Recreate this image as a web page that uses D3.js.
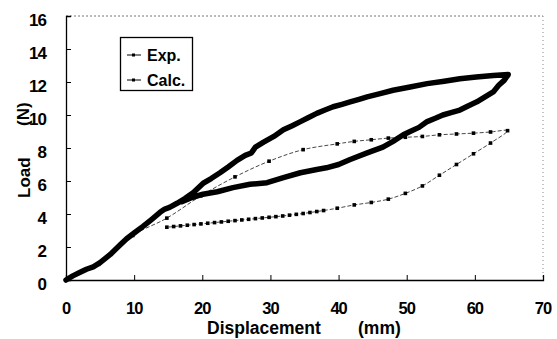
<!DOCTYPE html>
<html>
<head>
<meta charset="utf-8">
<script src="https://cdn.jsdelivr.net/npm/d3@7"></script>
<style>
body { margin: 0; background: #fff; }
text { font-family: "Liberation Sans", Arial, sans-serif; font-weight: bold; fill: #000; }
</style>
</head>
<body>
<div id="chart"></div>
<script>
// tick labels
var xTicks = [0, 10, 20, 30, 40, 50, 60, 70];
var yTicks = [0, 2, 4, 6, 8, 10, 12, 14, 16];

// Exp. : loading then unloading (one loop)
var expDisp = [0, 1, 2, 3, 4, 5, 6.5, 8, 8.9, 10, 11.3, 12.5, 13.8, 14.5, 15.2, 16.3, 17.5, 18.7, 20.1, 21.3, 22.6, 23.8, 25.1, 26.3, 27.2, 27.8, 29, 30.5, 31.9, 33.2, 34.4, 35.6, 36.8, 38, 39.2, 40.5, 41.7, 43, 44.2, 46.1, 48, 50.5, 53, 55.5, 57.8, 60.2, 62.7, 64.9,
    64.3, 63.5, 62.7, 61.5, 60.3, 59, 57.8, 56.5, 55.3, 54.2, 53, 51.8, 50.5, 49.5, 48, 46.5, 44.2, 41.7, 40, 38.2, 36.8, 34.4, 31.9, 29.5, 27, 24.5, 22.2, 20.1, 18.5, 17];
var expLoad = [0, 0.25, 0.45, 0.65, 0.8, 1.05, 1.55, 2.15, 2.5, 2.85, 3.25, 3.65, 4.1, 4.3, 4.4, 4.65, 4.95, 5.3, 5.85, 6.15, 6.5, 6.85, 7.25, 7.55, 7.7, 8.05, 8.35, 8.7, 9.1, 9.35, 9.6, 9.85, 10.1, 10.3, 10.5, 10.65, 10.8, 10.95, 11.1, 11.3, 11.5, 11.7, 11.9, 12.05, 12.2, 12.3, 12.4, 12.45,
    12.1, 11.8, 11.4, 11.1, 10.8, 10.55, 10.3, 10.15, 10.0, 9.8, 9.6, 9.25, 9.0, 8.8, 8.4, 8.05, 7.7, 7.3, 7.0, 6.8, 6.7, 6.5, 6.2, 5.9, 5.8, 5.6, 5.35, 5.2, 5.0, 4.75];

// Calc. loading branch
var calcUpDisp = [0, 4.8, 9.8, 14.8, 19.8, 24.8, 29.8, 34.8, 39.8, 42.3, 44.8, 47.3, 49.8, 52.3, 54.8, 57.3, 59.8, 62.3, 64.8];
var calcUpLoad = [0, 0.95, 2.7, 3.75, 5.1, 6.25, 7.2, 7.9, 8.25, 8.4, 8.5, 8.6, 8.65, 8.7, 8.8, 8.85, 8.9, 8.97, 9.05];

// Calc. unloading branch
var calcDownDisp = [64.8, 62.3, 59.8, 57.3, 54.8, 52.3, 49.8, 47.3, 44.8, 42.3, 39.8, 37.8, 36.8, 35.8, 34.8, 33.8, 32.8, 31.8, 30.8, 29.8, 28.8, 27.8, 26.8, 25.8, 24.8, 23.8, 22.8, 21.8, 20.8, 19.8, 18.8, 17.8, 16.8, 15.8, 14.8];
var calcDownLoad = [9.05, 8.3, 7.65, 7.0, 6.35, 5.7, 5.25, 4.9, 4.7, 4.55, 4.35, 4.21, 4.15, 4.09, 4.03, 3.98, 3.93, 3.88, 3.84, 3.8, 3.76, 3.72, 3.68, 3.64, 3.6, 3.56, 3.52, 3.48, 3.44, 3.4, 3.36, 3.32, 3.28, 3.24, 3.2];

var width = 557,
    height = 339,
    margin = {left: 66, right: 14, top: 16, bottom: 59};

var svg = d3.select("#chart")
    .append("svg")
    .attr("width", width)
    .attr("height", height);

var x = d3.scaleLinear().domain([0, 70]).range([margin.left, width - margin.right]);
var y = d3.scaleLinear().domain([0, 16]).range([height - margin.bottom, margin.top]);

function pairs(xs, ys) {
    return xs.map(function(d, i) { return [d, ys[i]]; });
}
var expData = pairs(expDisp, expLoad);
var calcData = pairs(calcUpDisp, calcUpLoad).concat(pairs(calcDownDisp, calcDownLoad).slice(1));

// frame: dotted top / right
svg.append("line")
    .attr("x1", x(0)).attr("x2", x(70))
    .attr("y1", y(16)).attr("y2", y(16))
    .attr("stroke", "#777").attr("stroke-width", 1).attr("stroke-dasharray", "2,2");
svg.append("line")
    .attr("x1", x(70)).attr("x2", x(70))
    .attr("y1", y(16)).attr("y2", y(0))
    .attr("stroke", "#888").attr("stroke-width", 1).attr("stroke-dasharray", "1,3");

// axes
var xAxis = d3.axisBottom(x).tickValues(xTicks).tickSize(-5).tickFormat("");
var yAxis = d3.axisLeft(y).tickValues(yTicks).tickSize(-5).tickFormat("");

svg.append("g")
    .attr("transform", "translate(0," + y(0) + ")")
    .call(xAxis)
    .call(function(g) { g.select(".domain").attr("stroke-width", 1.3); });
svg.append("g")
    .attr("transform", "translate(" + x(0) + ",0)")
    .call(yAxis)
    .call(function(g) { g.select(".domain").attr("stroke-width", 1.3); });

// tick labels
svg.selectAll(".xl")
    .data(xTicks)
    .enter()
    .append("text")
    .attr("class", "xl")
    .attr("x", function(d) { return x(d); })
    .attr("y", 314)
    .attr("text-anchor", "middle")
    .attr("font-size", 16.5)
    .attr("letter-spacing", -1)
    .text(function(d) { return d; });

svg.selectAll(".yl")
    .data(yTicks)
    .enter()
    .append("text")
    .attr("class", "yl")
    .attr("x", 46)
    .attr("y", function(d) { return y(d) + 10; })
    .attr("text-anchor", "end")
    .attr("font-size", 17)
    .attr("letter-spacing", -1)
    .text(function(d) { return d; });

// axis titles
svg.append("text").attr("x", 207).attr("y", 334).attr("font-size", 17.5).text("Displacement");
svg.append("text").attr("x", 358).attr("y", 334).attr("font-size", 17.5).text("(mm)");
svg.append("text")
    .attr("transform", "translate(30,198) rotate(-90)")
    .attr("font-size", 17).text("Load");
svg.append("text")
    .attr("transform", "translate(29,126) rotate(-90)")
    .attr("font-size", 17).text("(N)");

// Calc. curve
var calcLine = d3.line()
    .x(function(d) { return x(d[0]); })
    .y(function(d) { return y(d[1]); })
    .curve(d3.curveCatmullRom);

svg.append("path")
    .datum(calcData)
    .attr("d", calcLine)
    .attr("fill", "none")
    .attr("stroke", "#333")
    .attr("stroke-width", 0.9)
    .attr("stroke-dasharray", "4,2");

svg.selectAll(".cm")
    .data(calcData)
    .enter()
    .append("rect")
    .attr("class", "cm")
    .attr("x", function(d) { return x(d[0]) - 1.8; })
    .attr("y", function(d) { return y(d[1]) - 1.8; })
    .attr("width", 3.6)
    .attr("height", 3.6)
    .attr("fill", "#000");

// Exp. curve
var expLine = d3.line()
    .x(function(d) { return x(d[0]); })
    .y(function(d) { return y(d[1]); });

svg.append("path")
    .datum(expData)
    .attr("d", expLine)
    .attr("fill", "none")
    .attr("stroke", "#000")
    .attr("stroke-width", 5.5)
    .attr("stroke-linejoin", "round")
    .attr("stroke-linecap", "round");

// legend
var legend = svg.append("g");
legend.append("rect")
    .attr("x", 120.5).attr("y", 37.5)
    .attr("width", 72).attr("height", 53)
    .attr("fill", "#fff").attr("stroke", "#000").attr("stroke-width", 1.3);

var legendNames = ["Exp.", "Calc."];
legendNames.forEach(function(name, i) {
    var ly = 55 + i * 25;
    legend.append("line")
        .attr("x1", 127).attr("x2", 141)
        .attr("y1", ly).attr("y2", ly)
        .attr("stroke", "#000").attr("stroke-width", 1);
    legend.append("rect")
        .attr("x", 132).attr("y", ly - 1.5)
        .attr("width", 3).attr("height", 3)
        .attr("fill", "#000");
    legend.append("text")
        .attr("x", 147).attr("y", ly + 6)
        .attr("font-size", 16)
        .text(name);
});
</script>
</body>
</html>
